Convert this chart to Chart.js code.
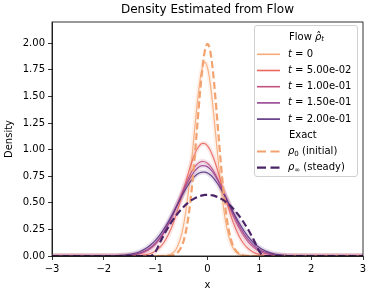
<!DOCTYPE html>
<html><head><meta charset="utf-8">
<script src="https://cdn.jsdelivr.net/npm/chart.js@4/dist/chart.umd.min.js"></script>
<style>html,body{margin:0;padding:0;background:#fff}canvas{display:block}</style>
</head><body>
<canvas id="c" width="372" height="295"></canvas>
<script>
// ---- data ----
const xs = [-3, -2.5, -2, -1.8,
  -1.6, -1.5, -1.4, -1.3, -1.2, -1.1, -1.0, -0.9, -0.8, -0.7, -0.6,
  -0.5, -0.45, -0.4, -0.35, -0.3, -0.25, -0.2, -0.15, -0.1, -0.05, 0, 0.05, 0.1, 0.15, 0.2, 0.25, 0.3, 0.35, 0.4, 0.45, 0.5,
  0.6, 0.7, 0.8, 0.9, 1.0, 1.1, 1.2, 1.3, 1.4, 1.5, 1.6,
  1.8, 2, 2.5, 3];

const flowT0 = [0, 0, 0, 0,
  0, 0, 0, 0, 0, 0, 0.0001, 0.0007, 0.004, 0.019, 0.069,
  0.204, 0.322, 0.484, 0.688, 0.926, 1.181, 1.427, 1.633, 1.771, 1.82, 1.771, 1.633, 1.427, 1.181, 0.926, 0.688, 0.484, 0.322, 0.204, 0.122, 0.069,
  0.019, 0.004, 0.0007, 0.0001, 0, 0, 0, 0, 0, 0, 0,
  0, 0, 0, 0];
const flowT05 = [0, 0, 0, 0,
  0.0002, 0.0007, 0.0018, 0.0046, 0.011, 0.024, 0.048, 0.091, 0.160, 0.260, 0.395,
  0.557, 0.643, 0.729, 0.812, 0.888, 0.954, 1.006, 1.041, 1.058, 1.057, 1.036, 0.997, 0.942, 0.874, 0.796, 0.712, 0.626, 0.540, 0.457, 0.380, 0.310,
  0.196, 0.115, 0.063, 0.032, 0.015, 0.0066, 0.0027, 0.001, 0.0004, 0.0001, 0,
  0, 0, 0, 0];
const flowT10 = [0, 0, 0.0001, 0.0006,
  0.003, 0.0063, 0.0124, 0.023, 0.041, 0.070, 0.113, 0.174, 0.253, 0.352, 0.466,
  0.585, 0.644, 0.701, 0.752, 0.797, 0.835, 0.864, 0.882, 0.890, 0.886, 0.872, 0.848, 0.813, 0.771, 0.722, 0.667, 0.609, 0.549, 0.489, 0.430, 0.374,
  0.272, 0.188, 0.124, 0.077, 0.046, 0.026, 0.014, 0.0072, 0.0035, 0.0016, 0.0007,
  0.0001, 0, 0, 0];
const flowT15 = [0, 0, 0.0002, 0.001,
  0.0045, 0.0087, 0.016, 0.029, 0.049, 0.080, 0.124, 0.184, 0.262, 0.355, 0.460,
  0.569, 0.623, 0.674, 0.720, 0.761, 0.796, 0.823, 0.841, 0.849, 0.848, 0.838, 0.818, 0.790, 0.754, 0.711, 0.664, 0.612, 0.558, 0.504, 0.449, 0.396,
  0.297, 0.213, 0.146, 0.096, 0.060, 0.036, 0.0205, 0.011, 0.0059, 0.0029, 0.0014,
  0.0003, 0, 0, 0];
const flowT20 = [0, 0, 0.0006, 0.0024,
  0.0085, 0.015, 0.026, 0.043, 0.068, 0.103, 0.150, 0.211, 0.286, 0.372, 0.465,
  0.559, 0.604, 0.646, 0.685, 0.718, 0.746, 0.768, 0.782, 0.789, 0.789, 0.780, 0.764, 0.741, 0.712, 0.677, 0.638, 0.595, 0.550, 0.503, 0.455, 0.409,
  0.319, 0.240, 0.173, 0.120, 0.080, 0.052, 0.032, 0.019, 0.011, 0.0059, 0.0031,
  0.0008, 0.0002, 0, 0];
const exactInitial = [0, 0, 0, 0,
  0, 0, 0, 0, 0, 0, 0, 0.0001, 0.0007, 0.0044, 0.022,
  0.088, 0.159, 0.270, 0.432, 0.648, 0.913, 1.210, 1.506, 1.760, 1.933, 1.995, 1.933, 1.760, 1.506, 1.210, 0.913, 0.648, 0.432, 0.270, 0.159, 0.088,
  0.022, 0.0044, 0.0007, 0.0001, 0, 0, 0, 0, 0, 0, 0,
  0, 0, 0, 0];
const exactSteady = [0, 0, 0, 0,
  0, 0, 0, 0, 0, 0, 0.043, 0.144, 0.235, 0.315, 0.384,
  0.442, 0.467, 0.490, 0.510, 0.527, 0.542, 0.554, 0.563, 0.570, 0.574, 0.575, 0.574, 0.570, 0.563, 0.554, 0.542, 0.527, 0.510, 0.490, 0.467, 0.442,
  0.384, 0.315, 0.235, 0.144, 0.043, 0, 0, 0, 0, 0, 0,
  0, 0, 0, 0];

const timeLabels = ['0', '5.00e-02', '1.00e-01', '1.50e-01', '2.00e-01'];
const yTicks = [0, 0.25, 0.5, 0.75, 1.0, 1.25, 1.5, 1.75, 2.0];
const xTicks = [-3, -2, -1, 0, 1, 2, 3];
const titleText = 'Density Estimated from Flow';
const xTitle = 'x';
const yTitle = 'Density';

// ---- styles ----
const flowColors = ['#f6aa7a', '#e9685f', '#c4527f', '#974592', '#5a3380'];
const initColor = '#f2a26e';
const steadyColor = '#4a2467';
const FONT = '"DejaVu Sans", sans-serif';
Chart.defaults.font.family = FONT;
Chart.defaults.color = '#000';

function pts(arr) { return xs.map((x, i) => ({ x: x, y: arr[i] })); }
function alpha(hex, a) {
  const n = parseInt(hex.slice(1), 16);
  return 'rgba(' + (n >> 16) + ',' + ((n >> 8) & 255) + ',' + (n & 255) + ',' + a + ')';
}
const flowSeries = [flowT0, flowT05, flowT10, flowT15, flowT20];
const datasets = [];
flowSeries.forEach((arr, i) => {
  datasets.push({ data: pts(arr), borderColor: alpha(flowColors[i], 0.15), borderWidth: 5,
    borderJoinStyle: 'round', borderCapStyle: 'round', order: 30 + i });
  datasets.push({ data: pts(arr), borderColor: alpha(flowColors[i], 0.9), borderWidth: 1.2, order: 20 - i });
});
datasets.push({ data: pts(exactInitial), borderColor: initColor, borderWidth: 2.2, borderDash: [7, 3.5], order: 2 });
datasets.push({ data: pts(exactSteady), borderColor: steadyColor, borderWidth: 2.2, borderDash: [7, 3.5], order: 1 });

function drawSegs(ctx, x, y, segs) {
  segs.forEach(s => {
    const size = s.sub ? 7 : 10;
    ctx.font = (s.it ? 'italic ' : '') + size + 'px ' + FONT;
    const w = ctx.measureText(s.t).width;
    ctx.fillText(s.t, x, y + (s.sub ? 2.5 : 0));
    if (s.hat) {
      ctx.font = '10px ' + FONT;
      const hw = ctx.measureText('\u02C6').width;
      ctx.fillText('\u02C6', x + w / 2 - hw / 2 + 0.5, y + 0.5);
    }
    x += w;
  });
}

const framePlugin = {
  id: 'frame',
  afterDatasetsDraw(chart) {
    const a = chart.chartArea, ctx = chart.ctx;
    ctx.save();
    ctx.strokeStyle = '#000'; ctx.lineWidth = 0.8;
    ctx.strokeRect(a.left, a.top, a.right - a.left, a.bottom - a.top);
    ctx.restore();
  }
};

const legendPlugin = {
  id: 'mplLegend',
  afterDraw(chart) {
    const ctx = chart.ctx;
    ctx.save();
    const bx = 254.5, by = 25.5, bw = 103, bh = 151, r = 2.5;
    ctx.beginPath();
    ctx.moveTo(bx + r, by); ctx.lineTo(bx + bw - r, by); ctx.arcTo(bx + bw, by, bx + bw, by + r, r);
    ctx.lineTo(bx + bw, by + bh - r); ctx.arcTo(bx + bw, by + bh, bx + bw - r, by + bh, r);
    ctx.lineTo(bx + r, by + bh); ctx.arcTo(bx, by + bh, bx, by + bh - r, r);
    ctx.lineTo(bx, by + r); ctx.arcTo(bx, by, bx + r, by, r); ctx.closePath();
    ctx.fillStyle = 'rgba(255,255,255,0.8)'; ctx.fill();
    ctx.strokeStyle = '#d0d0d0'; ctx.lineWidth = 1; ctx.stroke();

    ctx.textBaseline = 'middle'; ctx.textAlign = 'left'; ctx.fillStyle = '#000';
    const hx1 = 257, hx2 = 280, tx = 288;
    drawSegs(ctx, tx + 1, 37, [{ t: 'Flow ' }, { t: 'ρ', it: true, hat: true }, { t: 't', it: true, sub: true }]);
    timeLabels.forEach((lab, k) => {
      const y = 54.3 + 16.2 * k;
      ctx.beginPath(); ctx.setLineDash([]); ctx.strokeStyle = flowColors[k]; ctx.lineWidth = 1.6;
      ctx.moveTo(hx1, y); ctx.lineTo(hx2, y); ctx.stroke();
      drawSegs(ctx, tx, y, [{ t: 't', it: true }, { t: ' = ' + lab }]);
    });
    drawSegs(ctx, tx + 1, 135.3, [{ t: 'Exact' }]);
    const ex = [[151.5, initColor, '0', ' (initial)'], [167.7, steadyColor, '∞', ' (steady)']];
    ex.forEach(e => {
      ctx.beginPath(); ctx.setLineDash([9, 4.5]); ctx.strokeStyle = e[1]; ctx.lineWidth = 2.2;
      ctx.moveTo(hx1, e[0]); ctx.lineTo(hx2 + 1, e[0]); ctx.stroke();
      drawSegs(ctx, tx, e[0], [{ t: 'ρ', it: true }, { t: e[2], sub: true }, { t: e[3] }]);
    });
    ctx.restore();
  }
};

new Chart(document.getElementById('c'), {
  type: 'line',
  data: { datasets: datasets },
  options: {
    responsive: false, animation: false, devicePixelRatio: 1,
    elements: { point: { radius: 0 }, line: { cubicInterpolationMode: 'monotone', fill: false } },
    layout: { padding: { left: 0, right: 9, top: 0, bottom: 0 } },
    plugins: {
      legend: { display: false }, tooltip: { enabled: false },
      title: { display: true, text: titleText, fullSize: false, color: '#000',
        font: { size: 12, weight: 'normal' }, padding: { top: 3, bottom: 4.6 } }
    },
    scales: {
      x: {
        type: 'linear', min: -3, max: 3,
        afterFit(s) { s.height = 39; },
        afterBuildTicks(s) { s.ticks = xTicks.map(v => ({ value: v })); },
        ticks: { font: { size: 10 }, color: '#000', padding: 3, maxRotation: 0,
          callback: v => String(v).replace('-', '\u2212') },
        grid: { display: true, drawOnChartArea: false, drawTicks: true, tickLength: 4, color: '#000', lineWidth: 0.8 },
        border: { display: true, color: '#000', width: 0.8 },
        title: { display: true, text: xTitle, font: { size: 10 }, color: '#000', padding: { top: 4, bottom: 4 } }
      },
      y: {
        type: 'linear', min: 0, max: 2.2,
        afterFit(s) { s.width = 52; },
        afterBuildTicks(s) { s.ticks = yTicks.map(v => ({ value: v })); },
        ticks: { font: { size: 10 }, color: '#000', padding: 3, callback: v => Number(v).toFixed(2) },
        grid: { display: true, drawOnChartArea: false, drawTicks: true, tickLength: 4, color: '#000', lineWidth: 0.8 },
        border: { display: true, color: '#000', width: 0.8 },
        title: { display: true, text: yTitle, font: { size: 10 }, color: '#000', padding: { top: 3, bottom: 3 } }
      }
    }
  },
  plugins: [framePlugin, legendPlugin]
});
</script>
</body></html>
